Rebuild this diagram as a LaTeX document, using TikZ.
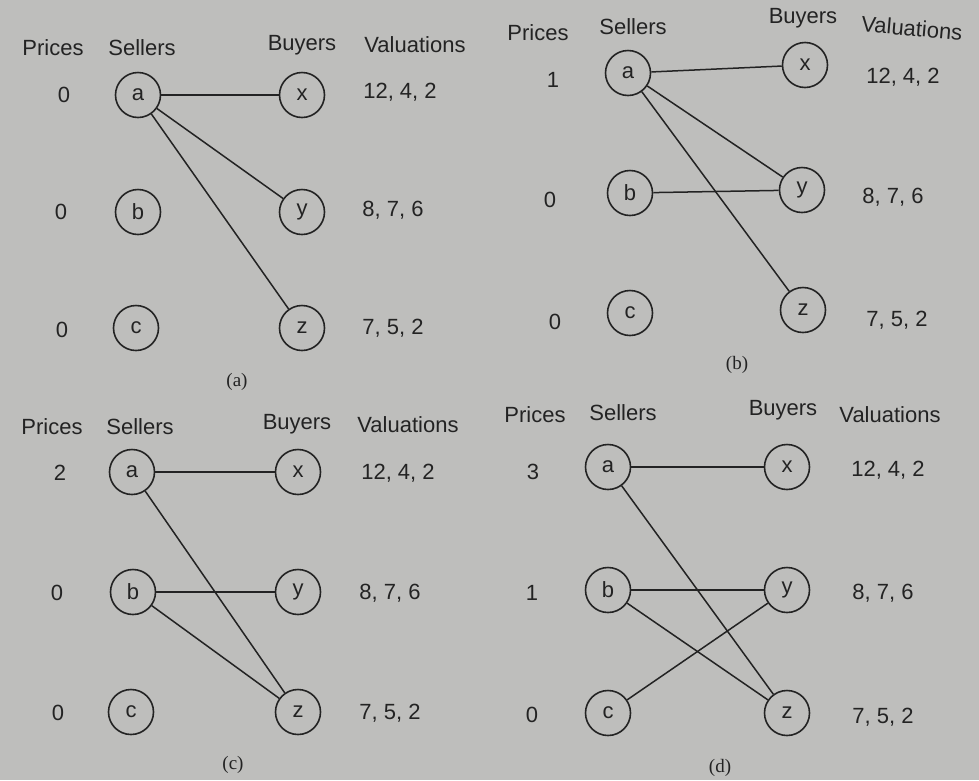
\documentclass[tikz,border=0pt]{standalone}
\usepackage{fontspec}
\setmainfont{Liberation Sans}
\newfontfamily\capfont{Liberation Serif}
\definecolor{paper}{RGB}{190,190,188}
\definecolor{ink}{RGB}{35,35,35}
\tikzset{
  vertex/.style={circle,draw=ink,line width=1.6pt,minimum size=45pt,inner sep=0pt,text=ink},
  lbl/.style={text=ink,inner sep=0pt},
  panelcap/.style={text=ink,font=\capfont\fontsize{19}{21}\selectfont},
  edge/.style={draw=ink,line width=1.5pt}
}
\begin{document}
\begin{tikzpicture}[x=1pt,y=-1pt,font=\fontsize{22}{26}\selectfont]
  \fill[paper] (0,0) rectangle (979,780);
  \useasboundingbox (0,0) rectangle (979,780);

  % (a)
  \node[lbl] (pa) at (53,48) {Prices};
  \node[lbl] (sa) at (142,48) {Sellers};
  \node[lbl] (ba) at (302,45) {Buyers};
  \node[lbl] (va) at (415,45) {Valuations};
  \node[lbl] (pa1) at (64,95) {0};
  \node[lbl] (pa2) at (61,212) {0};
  \node[lbl] (pa3) at (62,330) {0};
  \node[vertex] (a1) at (138,95) {a};
  \node[vertex] (b1) at (138,212) {b};
  \node[vertex] (c1) at (136,328) {c};
  \node[vertex] (x1) at (302,95) {x};
  \node[vertex] (y1) at (302,212) {y};
  \node[vertex] (z1) at (302,328) {z};
  \node[lbl] (va1) at (400,92) {12, 4, 2};
  \node[lbl] (va2) at (393,210) {8, 7, 6};
  \node[lbl] (va3) at (393,328) {7, 5, 2};
  \node[panelcap] (capa) at (237,382) {(a)};
  \draw[edge] (a1) -- (x1);
  \draw[edge] (a1) -- (y1);
  \draw[edge] (a1) -- (z1);

  % (b)
  \node[lbl] (pb) at (538,33) {Prices};
  \node[lbl] (sb) at (633,27) {Sellers};
  \node[lbl] (bb) at (803,18) {Buyers};
  \node[lbl,rotate=-5] (vb) at (912,28) {Valuations};
  \node[lbl] (pb1) at (553,80) {1};
  \node[lbl] (pb2) at (550,200) {0};
  \node[lbl] (pb3) at (555,322) {0};
  \node[vertex] (a2) at (628,73) {a};
  \node[vertex] (b2) at (630,193) {b};
  \node[vertex] (c2) at (630,313) {c};
  \node[vertex] (x2) at (805,65) {x};
  \node[vertex] (y2) at (802,190) {y};
  \node[vertex] (z2) at (803,310) {z};
  \node[lbl] (vb1) at (903,77) {12, 4, 2};
  \node[lbl] (vb2) at (893,197) {8, 7, 6};
  \node[lbl] (vb3) at (897,320) {7, 5, 2};
  \node[panelcap] (capb) at (737,365) {(b)};
  \draw[edge] (a2) -- (x2);
  \draw[edge] (a2) -- (y2);
  \draw[edge] (a2) -- (z2);
  \draw[edge] (b2) -- (y2);

  % (c)
  \node[lbl] (pc) at (52,427) {Prices};
  \node[lbl] (sc) at (140,427) {Sellers};
  \node[lbl] (bc) at (297,424) {Buyers};
  \node[lbl] (vc) at (408,425) {Valuations};
  \node[lbl] (pc1) at (60,473) {2};
  \node[lbl] (pc2) at (57,593) {0};
  \node[lbl] (pc3) at (58,713) {0};
  \node[vertex] (a3) at (132,472) {a};
  \node[vertex] (b3) at (133,592) {b};
  \node[vertex] (c3) at (131,712) {c};
  \node[vertex] (x3) at (298,472) {x};
  \node[vertex] (y3) at (298,592) {y};
  \node[vertex] (z3) at (298,712) {z};
  \node[lbl] (vc1) at (398,473) {12, 4, 2};
  \node[lbl] (vc2) at (390,593) {8, 7, 6};
  \node[lbl] (vc3) at (390,713) {7, 5, 2};
  \node[panelcap] (capc) at (233,765) {(c)};
  \draw[edge] (a3) -- (x3);
  \draw[edge] (a3) -- (z3);
  \draw[edge] (b3) -- (y3);
  \draw[edge] (b3) -- (z3);

  % (d)
  \node[lbl] (pd) at (535,415) {Prices};
  \node[lbl] (sd) at (623,413) {Sellers};
  \node[lbl] (bd) at (783,410) {Buyers};
  \node[lbl] (vd) at (890,415) {Valuations};
  \node[lbl] (pd1) at (533,472) {3};
  \node[lbl] (pd2) at (532,593) {1};
  \node[lbl] (pd3) at (532,715) {0};
  \node[vertex] (a4) at (608,467) {a};
  \node[vertex] (b4) at (608,590) {b};
  \node[vertex] (c4) at (608,713) {c};
  \node[vertex] (x4) at (787,467) {x};
  \node[vertex] (y4) at (787,590) {y};
  \node[vertex] (z4) at (787,713) {z};
  \node[lbl] (vd1) at (888,470) {12, 4, 2};
  \node[lbl] (vd2) at (883,593) {8, 7, 6};
  \node[lbl] (vd3) at (883,717) {7, 5, 2};
  \node[panelcap] (capd) at (720,768) {(d)};
  \draw[edge] (a4) -- (x4);
  \draw[edge] (a4) -- (z4);
  \draw[edge] (b4) -- (y4);
  \draw[edge] (b4) -- (z4);
  \draw[edge] (c4) -- (y4);
\end{tikzpicture}
\end{document}
